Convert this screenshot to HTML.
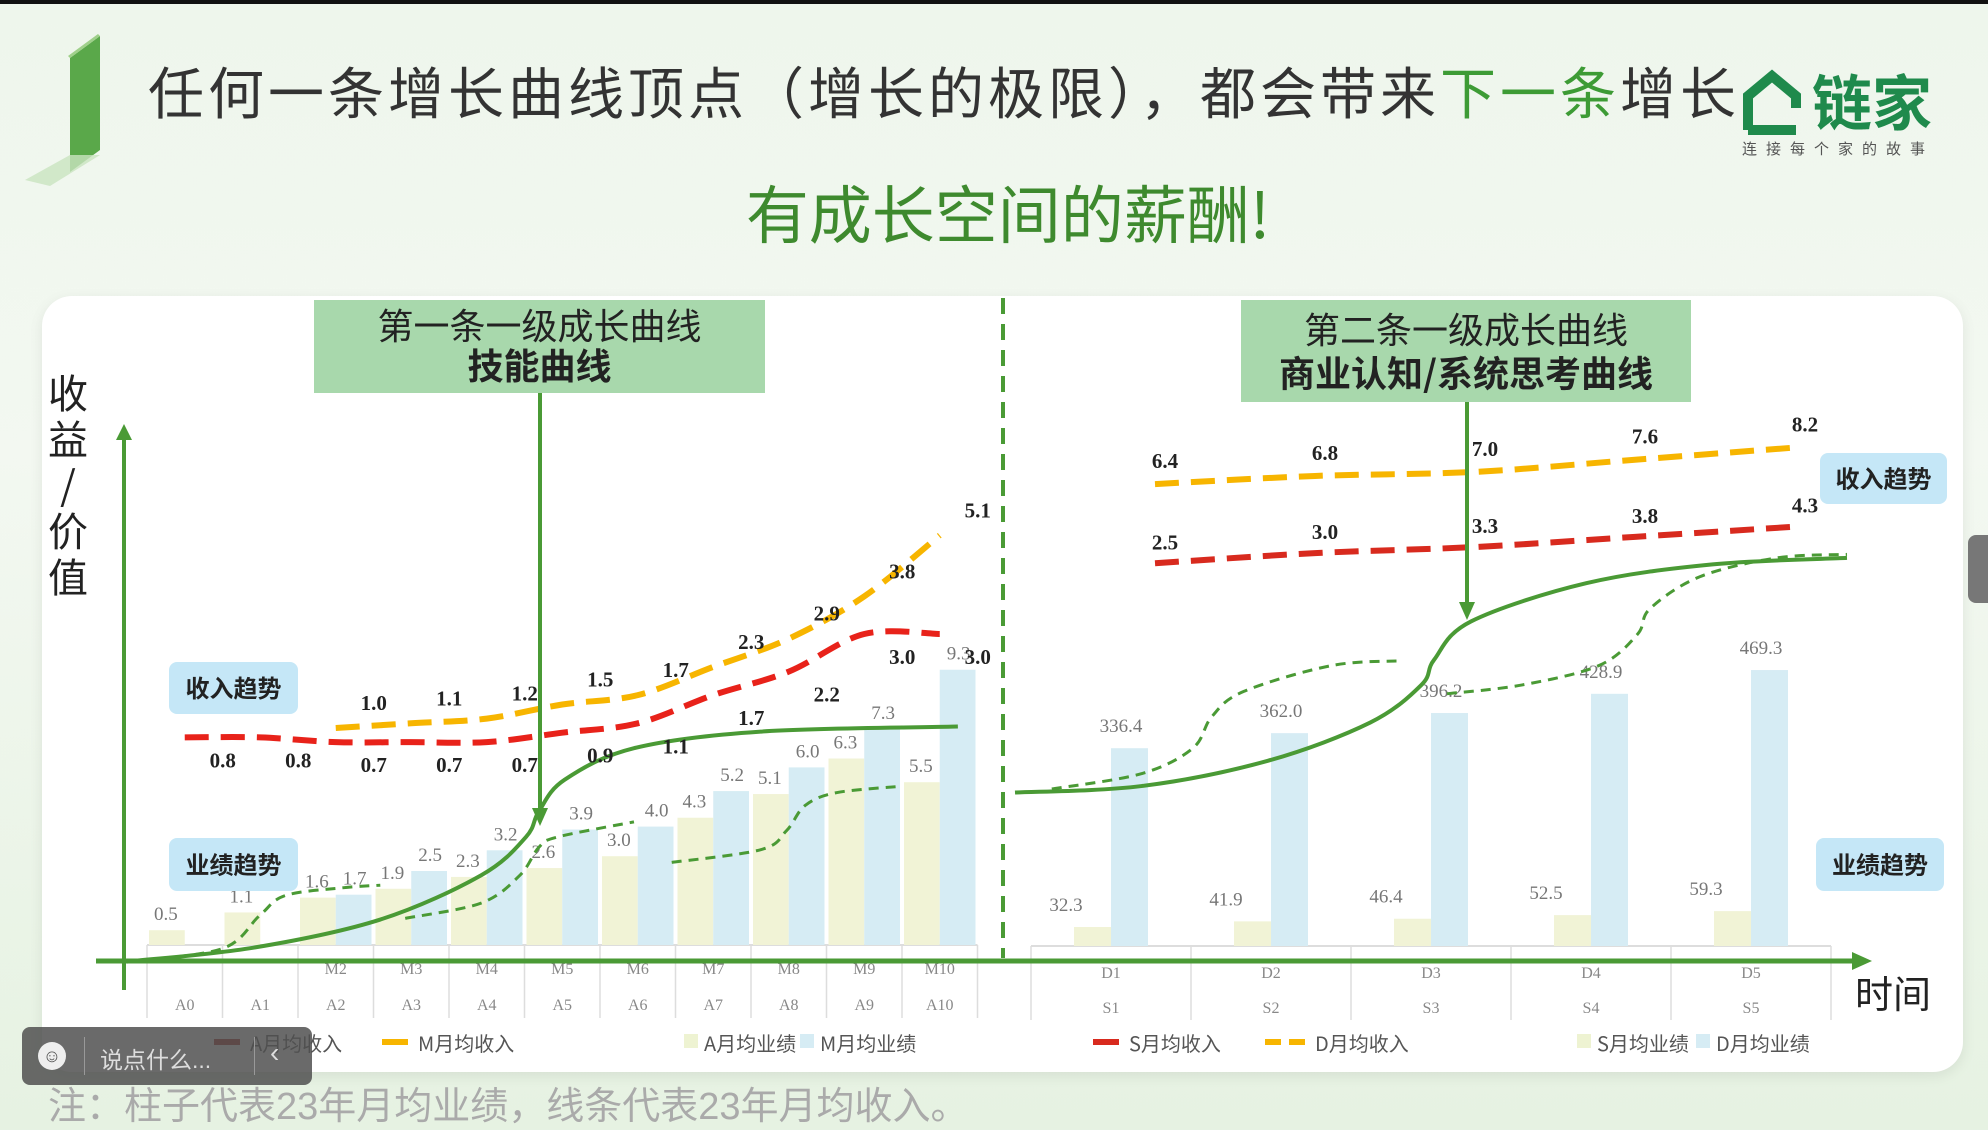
<!DOCTYPE html>
<html><head><meta charset="utf-8">
<style>
body{margin:0;width:1988px;height:1130px;overflow:hidden;background:linear-gradient(180deg,#eef6ec 0%,#f3f8f1 40%,#e6f2e2 100%);font-family:"Liberation Sans","Noto Sans CJK SC",sans-serif;position:relative}
.abs{position:absolute}
</style></head><body>
<div class="abs" style="left:0;top:0;width:1988px;height:4px;background:#111"></div>
<svg class="abs" style="left:20px;top:30px" width="120" height="160">
<polygon points="50,28 80,6 80,120 50,142" fill="#5aa84a"/>
<polygon points="50,28 80,6 78,4 48,26" fill="#9fd08a"/>
<polygon points="5,150 50,125 80,125 30,156" fill="#c9e4bf" opacity="0.8"/>
</svg>
<div class="abs" style="left:148px;top:50px;font-size:56px;color:#333;white-space:nowrap;letter-spacing:4px;font-family:'Noto Sans CJK SC',sans-serif">任何一条增长曲线顶点（增长的极限），都会带来<span style="color:#3d9b35">下一条</span>增长</div>
<div class="abs" style="left:1742px;top:60px;width:205px;height:100px">
<svg width="62" height="70" style="position:absolute;left:0;top:8px"><path d="M6,62 V28 L30,8 L54,28 V40 M6,62 H54" fill="none" stroke="#1f8a4c" stroke-width="10"/></svg>
<div style="position:absolute;left:70px;top:0;font-size:60px;font-weight:bold;color:#1f8a4c;font-family:'Noto Sans CJK SC',sans-serif;line-height:80px">链家</div>
<div style="position:absolute;left:0;top:78px;font-size:15px;color:#555;letter-spacing:9px;white-space:nowrap">连接每个家的故事</div>
</div>
<div class="abs" style="left:0;width:2016px;text-align:center;top:166px;font-size:63px;color:#3e8a2e;font-family:'Noto Sans CJK SC',sans-serif">有成长空间的薪酬!</div>
<div class="abs" style="left:42px;top:296px;width:1921px;height:776px;background:#fff;border-radius:30px;box-shadow:0 4px 14px rgba(0,0,0,0.08)"></div>
<svg class="abs" id="chart" style="left:0;top:0" width="1988" height="1130"></svg>
<div class="abs" style="left:22px;top:1027px;width:290px;height:58px;background:rgba(80,80,80,0.85);border-radius:8px;color:#ddd;font-size:23px">
<div style="position:absolute;left:16px;top:15px;width:28px;height:28px;border-radius:50%;background:#eee;color:#555;font-size:18px;text-align:center;line-height:28px">☺</div>
<div style="position:absolute;left:62px;top:10px;width:1px;height:38px;background:#999"></div>
<div style="position:absolute;left:78px;top:14px">说点什么...</div>
<div style="position:absolute;left:232px;top:10px;width:1px;height:38px;background:#999"></div>
<div style="position:absolute;left:248px;top:10px;font-size:28px">‹</div>
</div>
<div class="abs" style="left:1968px;top:535px;width:22px;height:68px;background:#777;border-radius:8px 0 0 8px"></div>
<div class="abs" style="left:48px;top:1075px;font-size:38px;color:#aaa;white-space:nowrap">注：柱子代表23年月均业绩，线条代表23年月均收入。</div>
<script>
const catsA=['A0','A1','A2','A3','A4','A5','A6','A7','A8','A9','A10'];
const catsM=['','','M2','M3','M4','M5','M6','M7','M8','M9','M10'];
const perfA=[0.5,1.1,1.6,1.9,2.3,2.6,3.0,4.3,5.1,6.3,5.5];
const perfM=[null,null,1.7,2.5,3.2,3.9,4.0,5.2,6.0,7.3,9.3];
const incA=[0.8,0.8,0.7,0.7,0.7,0.9,1.1,1.7,2.2,3.0,3.0];
const incM=[null,null,1.0,1.1,1.2,1.5,1.7,2.3,2.9,3.8,5.1];
const catsD=['D1','D2','D3','D4','D5'];
const catsS=['S1','S2','S3','S4','S5'];
const perfS=[32.3,41.9,46.4,52.5,59.3];
const perfD=[336.4,362.0,396.2,428.9,469.3];
const incS=[2.5,3.0,3.3,3.8,4.3];
const incD=[6.4,6.8,7.0,7.6,8.2];
const curveL=[[-0.77,-0.56],[0.91,-0.09],[2.59,0.86],[3.93,2.36],[4.52,3.65],[4.69,4.51],[5.03,5.58],[5.95,6.65],[7.63,7.21],[10.24,7.38]];
const dashL=[[[-0.77,-0.56],[0.49,-0.13],[0.99,0.99],[1.33,1.67],[2.08,1.93],[2.59,2.02]],[[2.92,0.90],[3.93,1.42],[4.44,2.36],[4.69,3.30],[4.94,3.65],[5.95,4.16]],[[6.45,2.79],[7.63,3.22],[7.97,3.86],[8.22,4.72],[8.64,5.15],[9.48,5.36]]];
const curveR=[[-0.60,261],[0.19,272],[0.98,315],[1.62,380],[1.94,444],[2.02,487],[2.25,552],[2.97,617],[3.76,649],[4.60,660]];
const dashR=[[[-0.37,267],[0.19,293],[0.51,336],[0.63,390],[0.83,433],[1.38,477],[1.82,485]],[[2.10,429],[2.57,444],[3.05,477],[3.29,530],[3.37,574],[3.68,628],[4.16,660],[4.60,666]]];

const NS='http://www.w3.org/2000/svg';
const svg=document.getElementById('chart');
function mk(tag,attrs,name,parent){const e=document.createElementNS(NS,tag);for(const k in attrs)e.setAttribute(k,attrs[k]);


(parent||svg).appendChild(e);return e;}
function txt(x,y,s,size,fill,name,extra){const t=mk('text',Object.assign({x:x,y:y,'font-size':size,fill:fill,'font-family':'"Liberation Serif","Noto Serif CJK SC",serif','text-anchor':'middle'},extra||{}),name);t.textContent=s;return t;}
const wL=75.5,x0L=147,bL=945,kL=29.6;
const xL=i=>x0L+wL*(i+0.5), yL=v=>bL-kL*v, yIL=v=>775-47*v;
const wR=160,x0R=1031,bR=946,kR=0.588;
const xR=i=>x0R+wR*(i+0.5), yR=v=>bR-kR*v, yIR=v=>614-20.3*v, xIR=i=>xR(i)+44;
function smooth(pts){let d='M'+pts[0][0]+','+pts[0][1];for(let i=0;i<pts.length-1;i++){const p0=pts[i-1]||pts[i],p1=pts[i],p2=pts[i+1],p3=pts[i+2]||p2;
d+=' C'+(p1[0]+(p2[0]-p0[0])/6)+','+(p1[1]+(p2[1]-p0[1])/6)+' '+(p2[0]-(p3[0]-p1[0])/6)+','+(p2[1]-(p3[1]-p1[1])/6)+' '+p2[0]+','+p2[1];}return d;}

mk('line',{x1:x0L,x2:x0L+wL*11,y1:bL,y2:bL,stroke:'#ddd','stroke-width':2},'left-bar-baseline');
for(let i=0;i<=11;i++){mk('line',{x1:x0L+wL*i,x2:x0L+wL*i,y1:bL,y2:1018,stroke:'#ddd','stroke-width':1.5},'left-category-gridline');}
catsA.forEach((c,i)=>{txt(xL(i),1010,c,16,'#888','x-label-'+c.toLowerCase());if(catsM[i])txt(xL(i),974,catsM[i],16,'#888','x-label-'+catsM[i].toLowerCase());});
perfA.forEach((v,i)=>{mk('rect',{x:x0L+wL*i+2,y:yL(v),width:wL/2-2,height:bL-yL(v),fill:'#f1f3d6'},'bar-a-'+i);
txt(xL(i)-wL/4,yL(v)-10,v.toFixed(1),19,'#777','bar-a-value');});
perfM.forEach((v,i)=>{if(v==null)return;mk('rect',{x:x0L+wL*i+wL/2,y:yL(v),width:wL/2-2,height:bL-yL(v),fill:'#d6ecf4'},'bar-m-'+i);
txt(xL(i)+wL/4,yL(v)-10,v.toFixed(1),19,'#777','bar-m-value');});
mk('line',{x1:x0R,x2:x0R+wR*5,y1:bR,y2:bR,stroke:'#ddd','stroke-width':2},'right-bar-baseline');
for(let i=0;i<=5;i++){mk('line',{x1:x0R+wR*i,x2:x0R+wR*i,y1:bR,y2:1020,stroke:'#ddd','stroke-width':1.5},'right-category-gridline');}
catsD.forEach((c,i)=>{txt(xR(i),978,c,16,'#888','x-label-'+c.toLowerCase());txt(xR(i),1013,catsS[i],16,'#888','x-label-'+catsS[i].toLowerCase());});
perfS.forEach((v,i)=>{mk('rect',{x:xR(i)-37,y:yR(v),width:37,height:bR-yR(v),fill:'#f1f3d6'},'bar-s-'+i);
txt(xR(i)-45,yR(v)-16,v.toFixed(1),19,'#777','bar-s-value');});
perfD.forEach((v,i)=>{mk('rect',{x:xR(i),y:yR(v),width:37,height:bR-yR(v),fill:'#d6ecf4'},'bar-d-'+i);
txt(xR(i)+10,yR(v)-16,v.toFixed(1),19,'#777','bar-d-value');});
mk('path',{d:smooth(curveL.map(p=>[xL(p[0]),yL(p[1])])),fill:'none',stroke:'#4a9a35','stroke-width':4},'left-growth-curve');
dashL.forEach((seg,j)=>mk('path',{d:smooth(seg.map(p=>[xL(p[0]),yL(p[1])])),fill:'none',stroke:'#4a9a35','stroke-width':3,'stroke-dasharray':'10,7'},'left-dashed-curve'));
mk('path',{d:smooth(curveR.map(p=>[xR(p[0]),yR(p[1])])),fill:'none',stroke:'#4a9a35','stroke-width':4},'right-growth-curve');
dashR.forEach(seg=>mk('path',{d:smooth(seg.map(p=>[xR(p[0]),yR(p[1])])),fill:'none',stroke:'#4a9a35','stroke-width':3,'stroke-dasharray':'10,7'},'right-dashed-curve'));
function incLine(arr,xf,yf,color,name,below,dx,dy){const pts=[];arr.forEach((v,i)=>{if(v!=null)pts.push([xf(i),yf(v)]);});
mk('path',{d:smooth(pts),fill:'none',stroke:color,'stroke-width':6,'stroke-dasharray':'24,12'},name);
arr.forEach((v,i)=>{if(v==null)return;txt(xf(i)+dx,yf(v)+(below?dy:-dy),v.toFixed(1),21,'#222',name+'-value',{'font-weight':'bold'});});}
incLine(incA,xL,yIL,'#e8221a','income-line-a',true,38,30);
incLine(incM,xL,yIL,'#f7b500','income-line-m',false,38,18);
incLine(incS,xIR,yIR,'#d82a1e','income-line-s',false,10,14);
incLine(incD,xIR,yIR,'#f7b500','income-line-d',false,10,16);
mk('line',{x1:124,x2:124,y1:440,y2:990,stroke:'#4a9a35','stroke-width':4},'y-axis');
mk('polygon',{points:'116,440 132,440 124,424',fill:'#4a9a35'},'y-axis-arrow');
mk('line',{x1:96,x2:1855,y1:961,y2:961,stroke:'#4a9a35','stroke-width':5},'x-axis');
mk('polygon',{points:'1852,952 1872,961 1852,970',fill:'#4a9a35'},'x-axis-arrow');
mk('line',{x1:1003,x2:1003,y1:298,y2:958,stroke:'#4a9a35','stroke-width':4,'stroke-dasharray':'16,10'},'section-divider');
mk('line',{x1:540,x2:540,y1:393,y2:808,stroke:'#4a9a35','stroke-width':4},'left-pointer-arrow');
mk('polygon',{points:'532,808 548,808 540,826',fill:'#4a9a35'},'left-pointer-arrowhead');
mk('line',{x1:1467,x2:1467,y1:402,y2:602,stroke:'#4a9a35','stroke-width':4},'right-pointer-arrow');
mk('polygon',{points:'1459,602 1475,602 1467,620',fill:'#4a9a35'},'right-pointer-arrowhead');
function box(x,y,w,h,l1,l2,name){mk('rect',{x:x,y:y,width:w,height:h,fill:'#a8d8ac'},name);
txt(x+w/2,y+h*0.42,l1,36,'#222',name+'-line1',{'font-family':'"Noto Sans CJK SC",sans-serif'});
txt(x+w/2,y+h*0.85,l2,36,'#222',name+'-line2',{'font-family':'"Noto Sans CJK SC",sans-serif','font-weight':'bold'});}
box(314,300,451,93,'第一条一级成长曲线','技能曲线','skill-curve-box');
box(1241,300,450,102,'第二条一级成长曲线','商业认知/系统思考曲线','business-curve-box');
function tag(x,y,w,h,s,name){mk('rect',{x:x,y:y,width:w,height:h,rx:8,fill:'#c5e7f7'},name);
txt(x+w/2,y+h/2+9,s,24,'#222',name+'-text',{'font-family':'"Noto Sans CJK SC",sans-serif','font-weight':'bold'});}
tag(169,662,129,52,'收入趋势','left-income-tag');
tag(169,838,129,53,'业绩趋势','left-perf-tag');
tag(1820,453,127,51,'收入趋势','right-income-tag');
tag(1816,838,128,53,'业绩趋势','right-perf-tag');
['收','益','/','价','值'].forEach((c,i)=>txt(68,408+i*46,c,40,'#222','y-axis-title',{'font-family':'"Noto Sans CJK SC",sans-serif'}));
txt(1893,1008,'时间',38,'#222','x-axis-title',{'font-family':'"Noto Sans CJK SC",sans-serif'});
function leg(x,type,color,label,name){if(type==='line')mk('line',{x1:x,x2:x+26,y1:1042,y2:1042,stroke:color,'stroke-width':6},name+'-marker');
else if(type==='dash')mk('line',{x1:x,x2:x+40,y1:1042,y2:1042,stroke:color,'stroke-width':6,'stroke-dasharray':'16,8'},name+'-marker');
else mk('rect',{x:x,y:1034,width:14,height:14,fill:color},name+'-marker');
txt(x+(type==='sq'?20:(type==='dash'?50:36)),1051,label,20,'#555',name,{'text-anchor':'start','font-family':'"Noto Sans CJK SC",sans-serif'});}
leg(214,'line','#a8261e','A月均收入','legend-a-income');
leg(382,'line','#f7b500','M月均收入','legend-m-income');
leg(684,'sq','#eef3d2','A月均业绩','legend-a-perf');
leg(800,'sq','#d6ecf4','M月均业绩','legend-m-perf');
leg(1093,'line','#d82a1e','S月均收入','legend-s-income');
leg(1265,'dash','#f7b500','D月均收入','legend-d-income');
leg(1577,'sq','#eef3d2','S月均业绩','legend-s-perf');
leg(1696,'sq','#d6ecf4','D月均业绩','legend-d-perf');
</script>
</body></html>
